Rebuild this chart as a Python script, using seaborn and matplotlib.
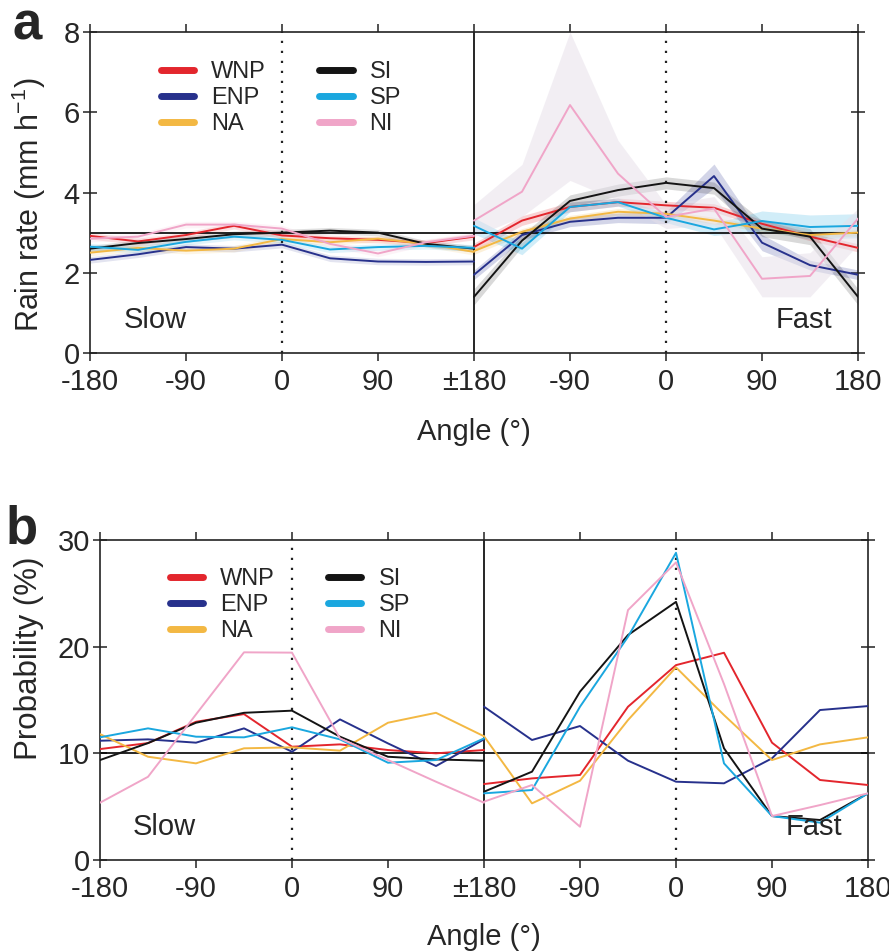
import numpy as np
import pandas as pd
import matplotlib
matplotlib.use('Agg')
import matplotlib.pyplot as plt
import seaborn as sns
from matplotlib.lines import Line2D

# ---------------- data ----------------
angles = [-180, -135, -90, -45, 0, 45, 90, 135, 180]
basins = ['WNP', 'ENP', 'NA', 'SI', 'SP', 'NI']
basin_colors = ['#e3262d', '#27318c', '#f3b843', '#141414', '#1aa7df', '#f0a5c8']
tick_pos = [-180, -90, 0, 90, 180, 270, 360, 450, 540]
tick_labels = ['-180', '-90', '0', '90', '\u00b1180', '-90', '0', '90', '180']

rain_slow = {
    'WNP': [2.92, 2.78, 2.94, 3.17, 2.93, 2.86, 2.82, 2.74, 2.90],
    'ENP': [2.32, 2.46, 2.64, 2.60, 2.70, 2.36, 2.28, 2.27, 2.28],
    'NA':  [2.50, 2.62, 2.55, 2.60, 2.84, 2.76, 2.85, 2.72, 2.52],
    'SI':  [2.60, 2.74, 2.84, 2.96, 3.00, 3.05, 3.00, 2.72, 2.60],
    'SP':  [2.65, 2.57, 2.77, 2.90, 2.82, 2.58, 2.64, 2.67, 2.62],
    'NI':  [2.85, 2.90, 3.20, 3.20, 3.10, 2.72, 2.48, 2.76, 2.92],
}
rain_slow_err = [0.08, 0.08, 0.08, 0.08, 0.08, 0.08, 0.08, 0.08, 0.08]

rain_fast = {
    'WNP': [2.64, 3.30, 3.64, 3.76, 3.68, 3.62, 3.22, 2.90, 2.62],
    'ENP': [1.95, 2.94, 3.27, 3.37, 3.37, 4.41, 2.75, 2.19, 1.95],
    'NA':  [2.54, 3.02, 3.35, 3.52, 3.47, 3.30, 3.10, 2.94, 3.00],
    'SI':  [1.40, 2.80, 3.79, 4.06, 4.24, 4.11, 3.10, 2.90, 1.40],
    'SP':  [3.17, 2.60, 3.64, 3.76, 3.37, 3.08, 3.29, 3.14, 3.17],
    'NI':  [3.30, 4.02, 6.18, 4.47, 3.39, 3.60, 1.85, 1.92, 3.35],
}
rain_fast_err = {
    'WNP': [0.10, 0.12, 0.12, 0.10, 0.10, 0.10, 0.10, 0.10, 0.10],
    'ENP': [0.12, 0.12, 0.12, 0.12, 0.15, 0.30, 0.20, 0.12, 0.12],
    'NA':  [0.08, 0.08, 0.08, 0.08, 0.08, 0.08, 0.08, 0.08, 0.08],
    'SI':  [0.20, 0.15, 0.15, 0.15, 0.15, 0.15, 0.20, 0.20, 0.20],
    'SP':  [0.20, 0.15, 0.12, 0.10, 0.12, 0.15, 0.25, 0.30, 0.30],
}
rain_fast_NI_low = [2.90, 3.40, 4.30, 3.80, 3.10, 3.20, 1.40, 1.40, 2.70]
rain_fast_NI_high = [3.70, 4.70, 8.00, 5.30, 3.70, 3.90, 2.40, 2.50, 3.60]

prob_slow = {
    'WNP': [10.40, 10.96, 12.96, 13.68, 10.62, 10.84, 10.31, 10.00, 10.31],
    'ENP': [11.18, 11.31, 11.00, 12.34, 10.15, 13.18, 10.93, 8.81, 11.31],
    'NA':  [11.80, 9.68, 9.06, 10.47, 10.56, 10.25, 12.87, 13.80, 11.60],
    'SI':  [9.37, 10.96, 12.87, 13.80, 14.00, 11.56, 9.68, 9.43, 9.31],
    'SP':  [11.50, 12.34, 11.56, 11.50, 12.44, 11.31, 9.12, 9.37, 11.40],
    'NI':  [5.37, 7.80, 13.65, 19.47, 19.44, 11.40, 9.37, 7.34, 5.37],
}
prob_fast = {
    'WNP': [7.12, 7.65, 7.97, 14.37, 18.27, 19.43, 11.00, 7.50, 7.03],
    'ENP': [14.37, 11.25, 12.56, 9.31, 7.34, 7.19, 9.53, 14.06, 14.43],
    'NA':  [11.60, 5.31, 7.43, 13.12, 18.06, 13.59, 9.37, 10.84, 11.50],
    'SI':  [6.40, 8.28, 15.78, 21.09, 24.20, 10.47, 4.12, 3.75, 6.25],
    'SP':  [6.25, 6.56, 14.37, 20.93, 28.80, 9.06, 4.12, 3.50, 6.25],
    'NI':  [5.47, 7.03, 3.12, 23.43, 27.90, 16.50, 4.12, 5.15, 6.25],
}

# ---------------- style ----------------
sns.set_theme(style='ticks')
plt.rcParams['font.family'] = ['Liberation Sans', 'DejaVu Sans']
plt.rcParams['mathtext.fontset'] = 'custom'
plt.rcParams['mathtext.rm'] = 'Liberation Sans'
plt.rcParams['mathtext.it'] = 'Liberation Sans'
plt.rcParams['axes.edgecolor'] = '#222222'
plt.rcParams['axes.linewidth'] = 1.2

palette = dict(zip(basins, basin_colors))


def long_frame(slow, fast):
    rows = []
    for b in basins:
        for a, v in zip(angles, slow[b]):
            rows.append((a, v, b, 'slow'))
        for a, v in zip(angles, fast[b]):
            rows.append((a + 360, v, b, 'fast'))
    return pd.DataFrame(rows, columns=['x', 'value', 'basin', 'speed'])


W, H = 889, 952
fig = plt.figure(figsize=(W / 100, H / 100), dpi=100)
ax_a = fig.add_axes([90 / W, 1 - 353 / H, 768 / W, 321 / H])
ax_b = fig.add_axes([100 / W, 1 - 860 / H, 768 / W, 320 / H])

# ---- panel a bands ----
xs_slow = np.array(angles)
xs_fast = np.array(angles) + 360
for b in basins:
    c = palette[b]
    v = np.array(rain_slow[b])
    e = np.array(rain_slow_err)
    ax_a.fill_between(xs_slow, v - e, v + e, color=c, alpha=0.13, lw=0, zorder=1)
    if b == 'NI':
        ax_a.fill_between(xs_fast, rain_fast_NI_low, rain_fast_NI_high,
                          color='#e6dfe9', alpha=0.5, lw=0, zorder=1)
    else:
        vf = np.array(rain_fast[b])
        ef = np.array(rain_fast_err[b])
        ax_a.fill_between(xs_fast, vf - ef, vf + ef, color=c,
                          alpha=0.2 if b != 'SI' else 0.16, lw=0, zorder=1)

df_a = long_frame(rain_slow, rain_fast)
df_b = long_frame(prob_slow, prob_fast)

for ax, df in ((ax_a, df_a), (ax_b, df_b)):
    sns.lineplot(data=df, x='x', y='value', hue='basin', units='speed',
                 estimator=None, hue_order=basins, palette=palette,
                 lw=1.4, legend=False, ax=ax, zorder=3)

legend_anchor = {ax_a: (0.092, 0.91), ax_b: (0.0905, 0.913)}
xlabel_pad = {ax_a: 16, ax_b: 15}
for ax, yref, ylim, yticks in ((ax_a, 3, (0, 8), [0, 2, 4, 6, 8]),
                               (ax_b, 10, (0, 30), [0, 10, 20, 30])):
    ax.set_xlim(-180, 540)
    ax.set_ylim(*ylim)
    ax.axhline(yref, color='black', lw=1.2, zorder=2)
    ax.axvline(180, color='black', lw=1.2, zorder=2)
    ax.axvline(0, color='#222222', lw=1.6, ls=(0, (1, 3.5)), zorder=2)
    ax.axvline(360, color='#222222', lw=1.6, ls=(0, (1, 3.5)), zorder=2)
    ax.set_xticks(tick_pos)
    ax.set_xticklabels(tick_labels)
    ax.set_yticks(yticks)
    ax.set_xlabel('Angle (\u00b0)', fontsize=21, labelpad=xlabel_pad[ax])
    ax.tick_params(axis='both', labelsize=21, length=5.5, width=1.1,
                   color='#222222', top=True, right=True, direction='out')
    ax.tick_params(axis='x', pad=5)
    ax.tick_params(axis='y', left=True, direction='inout', length=10.5, pad=2)
    ax.tick_params(axis='y', right=True, labelright=False)
    for s in ax.spines.values():
        s.set_visible(True)
        s.set_linewidth(1.2)
    handles = [Line2D([0], [0], color=palette[b], lw=5, solid_capstyle='round')
               for b in basins]
    ax.legend(handles, basins, ncol=2, frameon=False, loc='upper left',
              bbox_to_anchor=legend_anchor[ax], fontsize=17, handlelength=1.42,
              handletextpad=0.72, columnspacing=2.25, labelspacing=0.18,
              borderpad=0, borderaxespad=0)

ax_a.set_ylabel('Rain rate (mm h$^{-1}$)', fontsize=22)
ax_a.yaxis.set_label_coords(-0.055, 0.461)
ax_b.set_ylabel('Probability (%)', fontsize=22.5)
ax_b.yaxis.set_label_coords(-0.073, 0.63)

ax_a.text(0.044, 0.078, 'Slow', transform=ax_a.transAxes, fontsize=21, va='baseline')
ax_a.text(0.966, 0.078, 'Fast', transform=ax_a.transAxes, fontsize=21, va='baseline', ha='right')
ax_b.text(0.042, 0.078, 'Slow', transform=ax_b.transAxes, fontsize=21, va='baseline')
ax_b.text(0.966, 0.078, 'Fast', transform=ax_b.transAxes, fontsize=21, va='baseline', ha='right')

fig.text(13 / W, 1 - 40 / H, 'a', fontsize=38, fontweight='bold', va='baseline')
fig.text(6 / W, 1 - 543 / H, 'b', fontsize=38, fontweight='bold', va='baseline')

fig.savefig('out.png', dpi=100)
